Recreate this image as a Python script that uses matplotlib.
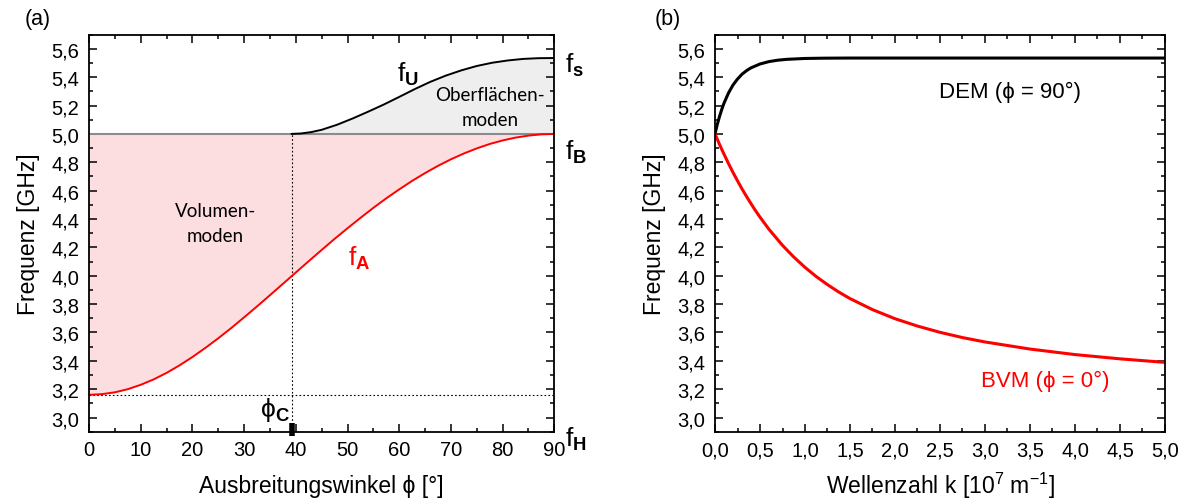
"""Spin-wave frequency bands vs. propagation angle and DEM/BVM dispersion."""

import matplotlib

matplotlib.use("Agg")

from matplotlib import pyplot as plt
from matplotlib.ticker import FuncFormatter, MultipleLocator

# --- data -------------------------------------------------------------------
F_H = 3.16   # GHz
F_B = 5.00
F_S = 5.535
PHI_C = 39.2  # deg

phi_a = [0, 2.5, 5, 7.5, 10, 12.5, 15, 17.5, 20, 22.5, 25, 27.5, 30, 32.5, 35,
         37.5, 40, 42.5, 45, 47.5, 50, 52.5, 55, 57.5, 60, 62.5, 65, 67.5, 70,
         72.5, 75, 77.5, 80, 82.5, 85, 87.5, 90]
f_a = [3.160, 3.165, 3.178, 3.200, 3.231, 3.269, 3.315, 3.368, 3.427, 3.491,
       3.559, 3.631, 3.707, 3.784, 3.863, 3.943, 4.023, 4.103, 4.182, 4.260,
       4.335, 4.408, 4.479, 4.546, 4.609, 4.669, 4.724, 4.775, 4.821, 4.862,
       4.898, 4.929, 4.954, 4.974, 4.988, 4.997, 5.000]

phi_u = [39.2, 41, 43, 45, 48, 51, 54, 57, 60, 63, 66, 69, 72, 75, 78, 81, 84, 87, 90]
f_u = [5.000, 5.003, 5.013, 5.029, 5.065, 5.109, 5.157, 5.207, 5.261, 5.316,
       5.367, 5.411, 5.448, 5.479, 5.502, 5.518, 5.529, 5.534, 5.535]

k_dem = [0, 0.025, 0.05, 0.075, 0.1, 0.15, 0.2, 0.25, 0.3, 0.35, 0.4, 0.5, 0.6,
         0.7, 0.8, 1.0, 1.2, 1.5, 2.0, 3.0, 4.0, 5.0]
f_dem = [5.000, 5.066, 5.123, 5.173, 5.217, 5.289, 5.345, 5.387, 5.421, 5.446,
         5.466, 5.493, 5.510, 5.520, 5.526, 5.532, 5.534, 5.535, 5.535, 5.535,
         5.535, 5.535]

k_bvm = [0, 0.025, 0.05, 0.075, 0.1, 0.125, 0.15, 0.2, 0.25, 0.3, 0.35, 0.4,
         0.45, 0.5, 0.6, 0.75, 0.875, 1.0, 1.125, 1.25, 1.375, 1.5, 1.75, 2.0,
         2.25, 2.5, 2.75, 3.0, 3.5, 4.0, 4.5, 5.0]
f_bvm = [5.000, 4.963, 4.926, 4.891, 4.857, 4.824, 4.791, 4.728, 4.669, 4.612,
         4.559, 4.508, 4.459, 4.413, 4.327, 4.214, 4.132, 4.059, 3.994, 3.937,
         3.885, 3.839, 3.761, 3.697, 3.645, 3.601, 3.564, 3.533, 3.483, 3.444,
         3.414, 3.389]

SANS = ["Liberation Sans", "DejaVu Sans"]
NOTE = ["Lato", "DejaVu Sans"]
RED = "#ff0000"

plt.rcParams["font.family"] = SANS
plt.rcParams["mathtext.fontset"] = "custom"
plt.rcParams["mathtext.rm"] = "Liberation Sans"
plt.rcParams["mathtext.it"] = "Liberation Sans"
plt.rcParams["mathtext.bf"] = "Liberation Sans:bold"

comma = lambda fmt: FuncFormatter(lambda v, _: (fmt % v).replace(".", ","))


def style_axes(ax, xmajor, xminor, xfmt):
    ax.set_ylim(2.9, 5.7)
    ax.yaxis.set_major_locator(MultipleLocator(0.2))
    ax.yaxis.set_minor_locator(MultipleLocator(0.1))
    ax.yaxis.set_major_formatter(comma("%.1f"))
    ax.xaxis.set_major_locator(MultipleLocator(xmajor))
    ax.xaxis.set_minor_locator(MultipleLocator(xminor))
    ax.xaxis.set_major_formatter(xfmt)
    ax.tick_params(which="both", direction="in", top=True, right=True,
                   labelsize=14.5, width=1.1)
    ax.tick_params(which="major", length=6)
    ax.tick_params(which="minor", length=3)
    ax.tick_params(axis="x", pad=6)
    ax.tick_params(axis="y", pad=7)
    for sp in ax.spines.values():
        sp.set_linewidth(1.3)
    ax.set_ylabel("Frequenz [GHz]", fontsize=16.5, labelpad=8)


fig = plt.figure(figsize=(11.84, 5.02), dpi=100)
ax1 = fig.add_axes([0.0752, 0.138, 0.393, 0.791])
ax2 = fig.add_axes([0.6039, 0.138, 0.380, 0.791])

# --- (a) bands vs. angle ----------------------------------------------------
ax1.fill_between(phi_a, f_a, F_B, color="#fcdee1", lw=0)
ax1.fill_between(phi_u, F_B, f_u, color="#eeeeee", lw=0)
ax1.axhline(F_B, color="#8c8c8c", lw=1.5)
ax1.plot([0, 90], [F_H, F_H], color="black", lw=0.8, ls=(0, (1.5, 2)))
ax1.plot([PHI_C, PHI_C], [2.9, F_B], color="black", lw=0.8, ls=(0, (1.5, 2)))
ax1.plot(phi_a, f_a, color=RED, lw=1.4)
ax1.plot(phi_u, f_u, color="black", lw=1.4)
ax1.plot([PHI_C, PHI_C], [2.87, 2.96], color="black", lw=4,
         solid_capstyle="butt", clip_on=False, zorder=5)
ax1.set_xlim(0, 90)
style_axes(ax1, 10, 5, FuncFormatter(lambda v, _: "%d" % v))
ax1.set_xlabel("Ausbreitungswinkel ϕ [°]", fontsize=16.5, labelpad=11)

ax1.text(24.4, 4.37, "Volumen-\nmoden", family=NOTE, fontsize=13.5,
         ha="center", va="center", linespacing=1.6)
ax1.text(77.6, 5.19, "Oberflächen-\nmoden", family=NOTE, fontsize=13.5,
         ha="center", va="center", linespacing=1.6)
ax1.text(59.5, 5.43, r"f$_\mathbf{U}$", fontsize=19, ha="left", va="center")
ax1.text(50.0, 4.13, r"f$_\mathbf{A}$", fontsize=19, color=RED,
         ha="left", va="center")
ax1.text(33.0, 3.06, r"ϕ$_\mathbf{C}$", fontsize=19, ha="left", va="center")
for lab, yy in [(r"f$_\mathbf{s}$", 5.49), (r"f$_\mathbf{B}$", 4.88),
                (r"f$_\mathbf{H}$", 2.85)]:
    ax1.text(92.0, yy, lab, fontsize=19, ha="left", va="center", clip_on=False)

# --- (b) dispersion ---------------------------------------------------------
ax2.plot(k_dem, f_dem, color="black", lw=2.2)
ax2.plot(k_bvm, f_bvm, color=RED, lw=2.2)
ax2.set_xlim(0, 5)
style_axes(ax2, 0.5, 0.25, comma("%.1f"))
ax2.set_xlabel(r"Wellenzahl k [10$^7$ m$^{-1}$]", fontsize=16.5, labelpad=8)
ax2.text(3.28, 5.30, "DEM (ϕ = 90°)", fontsize=16, ha="center", va="center")
ax2.text(3.67, 3.26, "BVM (ϕ = 0°)", fontsize=16, color=RED,
         ha="center", va="center")

fig.text(0.021, 0.962, "(a)", fontsize=15.5, ha="left", va="center")
fig.text(0.553, 0.962, "(b)", fontsize=15.5, ha="left", va="center")

fig.savefig("out.png", dpi=100)
